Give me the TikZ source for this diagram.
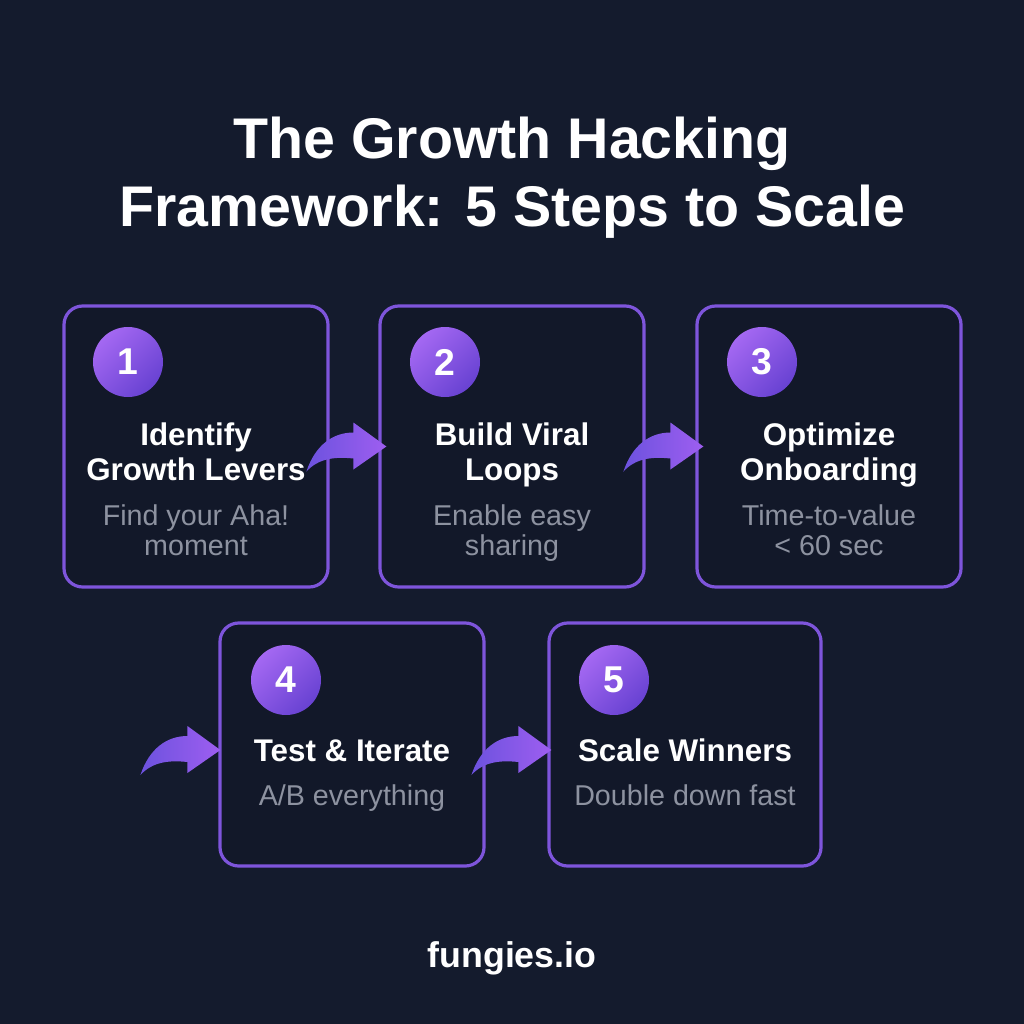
\documentclass[tikz,border=0pt]{standalone}
\usepackage{fontspec}
\setmainfont{Liberation Sans}
\usetikzlibrary{calc}
\definecolor{bgc}{HTML}{141B2D}
\definecolor{boxc}{HTML}{121829}
\definecolor{bordc}{HTML}{7E55DB}
\definecolor{subc}{HTML}{8D92A0}
\definecolor{circL}{HTML}{A468F2}
\definecolor{circR}{HTML}{6842D2}
\definecolor{arrL}{HTML}{6C52DE}
\definecolor{arrR}{HTML}{9E5EF0}
\tikzset{
  stepcard/.style={draw=bordc, line width=2.4pt, fill=boxc, rounded corners=14pt, inner sep=0pt},
  numdisc/.style={circle, minimum size=70, inner sep=0pt, text=white, font=\fontsize{28pt}{30pt}\selectfont\bfseries},
  headtxt/.style={anchor=base, text=white, font=\fontsize{23.5pt}{26pt}\selectfont\bfseries, inner sep=0pt},
  subtxt/.style={anchor=base, text=subc, font=\fontsize{21.5pt}{24pt}\selectfont, inner sep=0pt},
  titletxt/.style={anchor=base, text=white, font=\fontsize{43pt}{47pt}\selectfont\bfseries, inner sep=0pt},
  curvearrow/.pic={
    \shade[left color=arrL, right color=arrR]
      (0,0) -- (-33,-24) -- (-33,-14)
      .. controls (-53,-14) and (-71,-2) .. (-80,25)
      .. controls (-68,12) and (-52,10) .. (-33,12)
      -- (-33,23) -- cycle;
  }
}
\begin{document}
\begin{tikzpicture}[x=0.75pt, y=-0.75pt]
\useasboundingbox (0,0) rectangle (1024,1024);
\fill[bgc] (0,0) rectangle (1024,1024);

% title
\node[titletxt] (t1) at (512,158) {The Growth Hacking};
\node[titletxt] (t2) at (512,226) {Framework: 5 Steps to Scale};

% cards
\node[stepcard, minimum width=264*0.75pt, minimum height=281*0.75pt] (b1) at (196,446.5) {};
\node[stepcard, minimum width=264*0.75pt, minimum height=281*0.75pt] (b2) at (512,446.5) {};
\node[stepcard, minimum width=264*0.75pt, minimum height=281*0.75pt] (b3) at (829,446.5) {};
\node[stepcard, minimum width=264*0.75pt, minimum height=243*0.75pt] (b4) at (352,744.5) {};
\node[stepcard, minimum width=272*0.75pt, minimum height=243*0.75pt] (b5) at (685,744.5) {};

% number discs
\foreach \n/\x/\y in {1/128/362, 2/445/362, 3/762/362, 4/286/680, 5/614/680}{
  \shade[left color=circL, right color=circR, shading angle=45] (\x,\y) circle[radius=35];
  \node[numdisc] (c\n) at (\x,\y) {\n};
}

% card texts
\node[headtxt] (h1a) at (196,445) {Identify};
\node[headtxt] (h1b) at (196,480) {Growth Levers};
\node[subtxt] (s1a) at (196,525) {Find your Aha!};
\node[subtxt] (s1b) at (196,555) {moment};

\node[headtxt] (h2a) at (512,445) {Build Viral};
\node[headtxt] (h2b) at (512,480) {Loops};
\node[subtxt] (s2a) at (512,525) {Enable easy};
\node[subtxt] (s2b) at (512,555) {sharing};

\node[headtxt] (h3a) at (829,445) {Optimize};
\node[headtxt] (h3b) at (829,480) {Onboarding};
\node[subtxt] (s3a) at (829,525) {Time-to-value};
\node[subtxt] (s3b) at (829,555) {< 60 sec};

\node[headtxt] (h4) at (352,761) {Test \& Iterate};
\node[subtxt] (s4) at (352,805) {A/B everything};

\node[headtxt] (h5) at (685,761) {Scale Winners};
\node[subtxt] (s5) at (685,805) {Double down fast};

% curved arrows
\pic at ($(b2.west)+(8,0)$) {curvearrow};
\pic at ($(b3.west)+(8,0)$) {curvearrow};
\pic at ($(b4.west)+(2,5.5)$) {curvearrow};
\pic at ($(b5.west)+(4,5.5)$) {curvearrow};

% footer
\node[anchor=base, text=white, font=\fontsize{26.8pt}{29pt}\selectfont\bfseries, inner sep=0pt] (foot) at (512,967) {fungies.io};
\end{tikzpicture}
\end{document}
